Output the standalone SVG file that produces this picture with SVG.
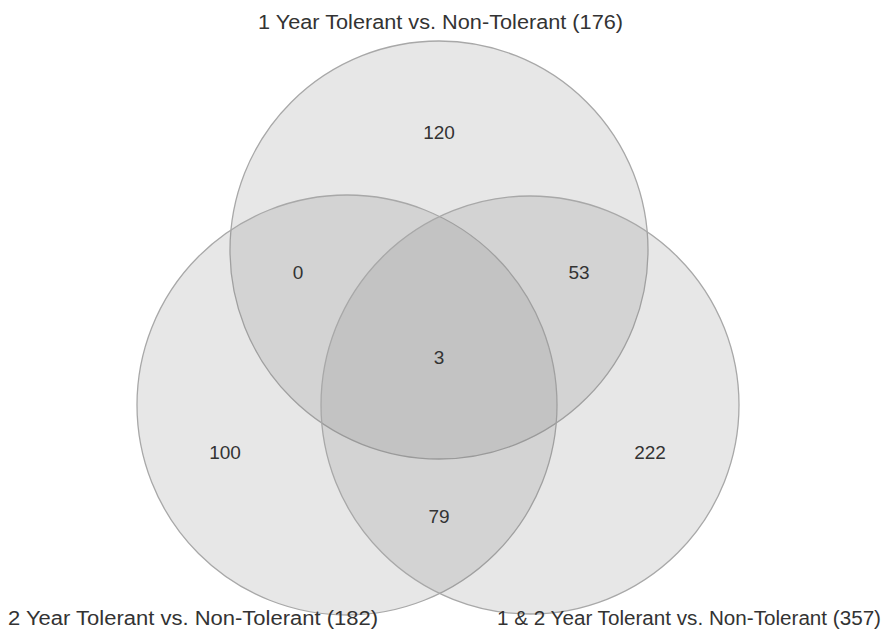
<svg xmlns="http://www.w3.org/2000/svg" width="887" height="633" viewBox="0 0 887 633">
<style>
.set{fill:#808080;fill-opacity:0.19;stroke:#a8a8a8;stroke-width:1.3}
.lbl{font-family:"Liberation Sans",Arial,sans-serif;font-size:20px;fill:#333}
.num{font-family:"Liberation Sans",Arial,sans-serif;font-size:19px;fill:#333;text-anchor:middle}
</style>
<rect width="887" height="633" fill="#fff"/>
<g id="set-1yr"><circle class="set" cx="439" cy="250" r="209"/></g>
<g id="set-2yr"><circle class="set" cx="347" cy="405" r="210"/></g>
<g id="set-both"><circle class="set" cx="530" cy="405" r="209"/></g>
<g id="counts">
<text class="num" x="439" y="139">120</text>
<text class="num" x="298" y="279">0</text>
<text class="num" x="579" y="279">53</text>
<text class="num" x="439" y="364">3</text>
<text class="num" x="225" y="459">100</text>
<text class="num" x="650" y="459">222</text>
<text class="num" x="439" y="523">79</text>
</g>
<g id="labels">
<text class="lbl" x="258" y="29" textLength="365" lengthAdjust="spacingAndGlyphs">1 Year Tolerant vs. Non-Tolerant  (176)</text>
<text class="lbl" x="8" y="625" textLength="370" lengthAdjust="spacingAndGlyphs">2 Year Tolerant vs. Non-Tolerant (182)</text>
<text class="lbl" x="497" y="625" textLength="384" lengthAdjust="spacingAndGlyphs">1 &amp; 2 Year Tolerant vs. Non-Tolerant (357)</text>
</g>
<g id="connectors"/>
</svg>
